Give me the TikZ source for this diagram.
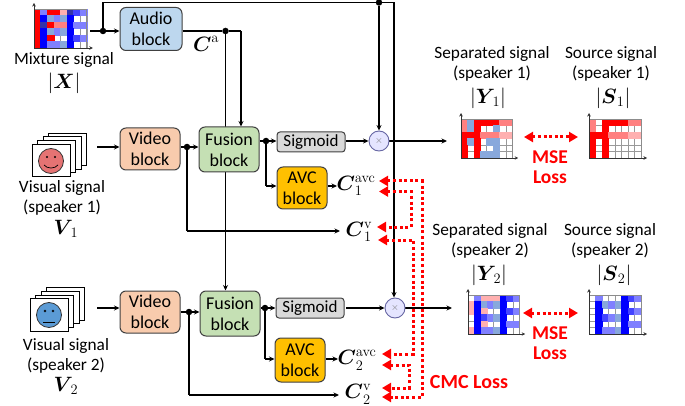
\documentclass[tikz,border=0pt]{standalone}
\usepackage{amsmath}
\usepackage[no-math]{fontspec}
\setmainfont{Carlito}
\usetikzlibrary{arrows.meta,backgrounds}
\definecolor{cR}{HTML}{FF0000}
\definecolor{cS}{HTML}{FF8080}
\definecolor{cP}{HTML}{FFB0B0}
\definecolor{cB}{HTML}{0000FF}
\definecolor{cN}{HTML}{4444FF}
\definecolor{cM}{HTML}{8080FF}
\definecolor{cD}{HTML}{3333AA}
\definecolor{cG}{HTML}{88A8DC}
\definecolor{cW}{HTML}{FFFFFF}
\def\wcode{W}
\newcommand{\heatgrid}[6]{% x y w h name rows
  \foreach \rw [count=\jj from 0] in {#6}{
    \foreach \cc [count=\ii from 0] in \rw {
      \draw[draw=black!40,line width=0.3pt,fill=white] ({#1+\ii*#3},{#2+\jj*#4}) rectangle ++(#3,#4);
    }
  }
  \foreach \rw [count=\jj from 0] in {#6}{
    \foreach \cc [count=\ii from 0] in \rw {
      \edef\tmpc{\cc}
      \ifx\tmpc\wcode\else
        \fill[fill=c\cc,draw=c\cc,line width=0.3pt] ({#1+\ii*#3},{#2+\jj*#4}) rectangle ++(#3,#4);
      \fi
    }
  }
  \draw[black!45,line width=0.7pt] (#1,#2) rectangle ++({8*#3},{6*#4});
  \coordinate (#5o) at (#1,{#2+6*#4});
  \coordinate (#5t) at (#1,{#2-6});
  \coordinate (#5r) at ({#1+8*#3+6},{#2+6*#4});
  \draw[axisline] (#5o) -- (#5t);
  \draw[axisline] (#5o) -- (#5r);
}
\newcommand{\framestack}[3]{% x y name
  \foreach \k in {3,2,1,0}{
    \draw[black,line width=0.8pt,fill=white] ({#1+\k*5.5},{#2-\k*3.6}) rectangle ++(38,32.5);
  }
}
\tikzset{
  x=1pt,y=-1pt,
  blk/.style={draw=black!75,line width=1pt,rounded corners=6pt,align=center,inner sep=0pt,
    font=\fontsize{18}{21}\selectfont},
  txt/.style={align=center,inner sep=0pt,font=\fontsize{17.3}{20.5}\selectfont},
  mth/.style={inner sep=0pt,font=\fontsize{20}{22}\selectfont},
  red label/.style={align=center,inner sep=0pt,text=red,font=\fontsize{19.5}{20}\selectfont\bfseries},
  lin/.style={line width=1.3pt,black},
  arr/.style={lin,-{Stealth[length=5.5pt,width=5pt]}},
  axisline/.style={line width=0.8pt,black!80,-{Stealth[length=3.5pt,width=3.5pt]}},
  dot/.style={circle,fill=black,inner sep=0pt,minimum size=6.5pt},
  mul/.style={circle,draw=black!60!blue!60,fill=blue!10,line width=0.9pt,minimum size=20pt,inner sep=0pt,text=black!55},
  redline/.style={red,line width=3pt,dash pattern=on 3pt off 2.6pt},
  redtwo/.style={redline,{Triangle[length=9pt,width=10pt,fill=red]}-{Triangle[length=9pt,width=10pt,fill=red]}},
}
\begin{document}
\begin{tikzpicture}
\useasboundingbox (0,0) rectangle (685,406);
% spectrograms
\heatgrid{34}{9}{6.6}{6.5}{hx}{{R,M,R,R,P,D,N,M},{R,B,G,M,G,B,W,W},{R,D,R,S,S,B,M,M},{R,B,G,M,G,B,W,W},{R,B,R,W,W,B,N,M},{R,B,M,M,G,B,W,W}}
\heatgrid{461}{119}{6.4}{6.5}{hya}{{S,G,R,R,R,R,S,S},{S,G,R,W,W,G,W,W},{R,R,R,S,S,S,P,P},{R,G,R,W,G,G,W,W},{R,W,R,W,W,G,W,W},{R,W,R,G,G,G,W,W}}
\heatgrid{589}{119}{6.5}{6.5}{hsa}{{S,W,R,R,R,R,S,S},{S,W,R,W,W,W,W,W},{R,R,R,S,S,S,P,P},{R,W,R,W,W,W,W,W},{R,W,R,W,W,W,W,W},{R,W,R,W,W,W,W,W}}
\heatgrid{468}{295}{6.4}{6.5}{hyb}{{W,M,P,P,P,B,N,M},{P,B,G,M,G,B,W,W},{P,B,P,W,W,B,N,M},{W,B,N,M,G,B,W,W},{W,B,P,W,W,B,M,M},{P,B,M,M,G,B,W,W}}
\heatgrid{589}{295}{6.5}{6.5}{hsb}{{W,M,W,W,W,B,N,M},{W,B,G,M,G,B,W,W},{W,B,W,W,W,B,N,M},{W,B,N,M,G,B,W,W},{W,B,W,W,W,B,M,M},{W,B,M,M,G,B,W,W}}
% frame stacks and faces
\framestack{32}{144}{sa}
\framestack{30}{298.5}{sb}
\draw[black!80,fill={rgb,255:red,229;green,115;blue,115},line width=0.8pt] (51,161) circle (12.5);
\fill (47,157) circle (1.1) (55,157) circle (1.1);
\draw[black,line width=0.7pt] (44,165) .. controls (47,169) and (55,169) .. (58,165);
\draw[black!80,line width=0.8pt,fill={rgb,255:red,91;green,155;blue,213}] (49,315) circle (12.5);
\draw[black,line width=0.6pt] (45,311) circle (1) (53,311) circle (1);
\draw[black,line width=0.7pt] (43,322) -- (55,322);
% blocks
\node[blk,fill={rgb,255:red,189;green,215;blue,238},minimum width=62pt,minimum height=43pt] (audio) at (151,29) {Audio\\block};
\node[blk,fill={rgb,255:red,248;green,203;blue,173},minimum width=60pt,minimum height=42pt] (vida) at (150,149) {Video\\block};
\node[blk,fill={rgb,255:red,248;green,203;blue,173},minimum width=60pt,minimum height=42pt] (vidb) at (150,312) {Video\\block};
\node[blk,fill={rgb,255:red,197;green,224;blue,180},minimum width=60pt,minimum height=45pt] (fusa) at (229,149.5) {Fusion\\block};
\node[blk,fill={rgb,255:red,197;green,224;blue,180},minimum width=60pt,minimum height=45pt] (fusb) at (230,313.5) {Fusion\\block};
\node[blk,fill=black!15,rounded corners=3pt,minimum width=68pt,minimum height=20pt,font=\fontsize{17}{20}\selectfont] (siga) at (311,142) {Sigmoid};
\node[blk,fill=black!15,rounded corners=3pt,minimum width=68pt,minimum height=20pt,font=\fontsize{17}{20}\selectfont] (sigb) at (310,308) {Sigmoid};
\node[blk,fill={rgb,255:red,255;green,192;blue,0},minimum width=50pt,minimum height=42pt] (avca) at (302,188) {AVC\\block};
\node[blk,fill={rgb,255:red,255;green,192;blue,0},minimum width=50pt,minimum height=44pt] (avcb) at (300,360) {AVC\\block};
\node[mul] (mula) at (379,141) {$\times$};
\node[mul] (mulb) at (395,308) {$\times$};
% texts
\node[txt] (tmix) at (64,60) {Mixture signal};
\node[mth] (mX) at (64,83.5) {$|\boldsymbol{X}|$};
\node[txt] (tva) at (62,198) {Visual signal\\(speaker 1)};
\node[mth] (mVa) at (66,229) {$\boldsymbol{V}_{\!1}$};
\node[txt] (tvb) at (66,356) {Visual signal\\(speaker 2)};
\node[mth] (mVb) at (66,386) {$\boldsymbol{V}_{\!2}$};
\node[txt] (tya) at (492,64) {Separated signal\\(speaker 1)};
\node[mth] (mYa) at (488,98) {$|\boldsymbol{Y}_{\!1}|$};
\node[txt] (tsa) at (611,64) {Source signal\\(speaker 1)};
\node[mth] (mSa) at (613,98) {$|\boldsymbol{S}_1|$};
\node[txt] (tyb) at (490,241) {Separated signal\\(speaker 2)};
\node[mth] (mYb) at (489,275) {$|\boldsymbol{Y}_{\!2}|$};
\node[txt] (tsb) at (610,241) {Source signal\\(speaker 2)};
\node[mth] (mSb) at (614,275) {$|\boldsymbol{S}_2|$};
\node[mth] (cA) at (206,44) {$\boldsymbol{C}^{\mathrm{a}}$};
\node[mth] (cAa) at (356,186) {$\boldsymbol{C}_1^{\mathrm{avc}}$};
\node[mth] (cVa) at (359,232) {$\boldsymbol{C}_1^{\mathrm{v}}$};
\node[mth] (cAb) at (357,360) {$\boldsymbol{C}_2^{\mathrm{avc}}$};
\node[mth] (cVb) at (358,394) {$\boldsymbol{C}_2^{\mathrm{v}}$};
\node[red label] (msea) at (550,167) {MSE\\Loss};
\node[red label] (mseb) at (550,343.5) {MSE\\Loss};
\node[red label,font=\fontsize{20}{20}\selectfont\bfseries] (cmc) at (469,382) {CMC Loss};
% junctions and free ends
\node[dot] (j0) at (103,31) {};
\node[dot] (jA) at (225.5,31) {};
\node[dot] (jT) at (379,2.5) {};
\node[dot] (jVa) at (187,147) {};
\node[dot] (jVb) at (189,312) {};
\node[dot] (jFa) at (266,141) {};
\node[dot] (jFb) at (265,308) {};
\coordinate (inM) at (90,31);
\coordinate (inA) at (97,147);
\coordinate (inB) at (97,308);
\coordinate (c1) at (103,2.5);
\coordinate (c2) at (394,2.5);
\coordinate (c3) at (241,31);
\coordinate (c4) at (187,231);
\coordinate (c5) at (189,395);
\coordinate (c6) at (266,186);
\coordinate (c7) at (265,359);
\coordinate (eYa) at (447,141);
\coordinate (eYb) at (452,308);
\coordinate (eVa) at (340,231);
\coordinate (eVb) at (339,395);
\coordinate (sOb) at (346,308);
\coordinate (eAa) at (337,186);
\coordinate (eAb) at (338,359);
\begin{scope}[on background layer]
\draw[lin] (inM) -- (j0);
\draw[arr] (j0) -- (audio.west |- j0);
\draw[lin] (j0) -- (c1) -- (jT) -- (c2);
\draw[arr] (c2) -- (c2 |- mulb.north);
\draw[arr] (jT) -- (mula.north);
\draw[lin] (audio.east |- jA) -- (jA) -- (c3);
\draw[arr] (c3) -- (c3 |- fusa.north);
\draw[arr] (jA) -- (jA |- fusb.north);
\draw[arr] (inA) -- (vida.west |- inA);
\draw[arr] (inB) -- (vidb.west |- inB);
\draw[lin] (vida.east |- jVa) -- (jVa);
\draw[arr] (jVa) -- (fusa.west |- jVa);
\draw[lin] (jVa) -- (c4);
\draw[arr] (c4) -- (eVa);
\draw[lin] (vidb.east |- jVb) -- (jVb);
\draw[arr] (jVb) -- (fusb.west |- jVb);
\draw[lin] (jVb) -- (c5);
\draw[arr] (c5) -- (eVb);
\draw[lin] (fusa.east |- jFa) -- (jFa);
\draw[arr] (jFa) -- (siga.west |- jFa);
\draw[lin] (jFa) -- (c6);
\draw[arr] (c6) -- (avca.west |- c6);
\draw[lin] (fusb.east |- jFb) -- (jFb);
\draw[arr] (jFb) -- (sigb.west |- jFb);
\draw[lin] (jFb) -- (c7);
\draw[arr] (c7) -- (avcb.west |- c7);
\draw[arr] (avca.east |- c6) -- (eAa);
\draw[arr] (avcb.east |- c7) -- (eAb);
\draw[arr] (siga.east |- mula) -- (mula.west);
\draw[arr] (sOb) -- (mulb.west);
\draw[arr] (mula.east) -- (eYa);
\draw[arr] (mulb.east) -- (eYb);
\end{scope}
% red dotted links
\coordinate (r1a) at (379,181);
\coordinate (r1b) at (422,181);
\coordinate (r1c) at (422,397);
\coordinate (r1d) at (382,397);
\coordinate (r2a) at (379,191.5);
\coordinate (r2b) at (411,191.5);
\coordinate (r2c) at (411,227);
\coordinate (r2d) at (377,227);
\coordinate (r3a) at (378,240);
\coordinate (r3b) at (413,240);
\coordinate (r3c) at (413,354);
\coordinate (r3d) at (382,354);
\coordinate (r4a) at (382,365);
\coordinate (r4b) at (409,365);
\coordinate (r4c) at (409,388);
\coordinate (r4d) at (382,388);
\coordinate (ma) at (524,137);
\coordinate (mb) at (578,137);
\coordinate (mc) at (523,313);
\coordinate (md) at (578,313);
\draw[redtwo] (r1a) -- (r1b) -- (r1c) -- (r1d);
\draw[redtwo] (r2a) -- (r2b) -- (r2c) -- (r2d);
\draw[redtwo] (r3a) -- (r3b) -- (r3c) -- (r3d);
\draw[redtwo] (r4a) -- (r4b) -- (r4c) -- (r4d);
\draw[redtwo] (ma) -- (mb);
\draw[redtwo] (mc) -- (md);
\end{tikzpicture}
\end{document}
